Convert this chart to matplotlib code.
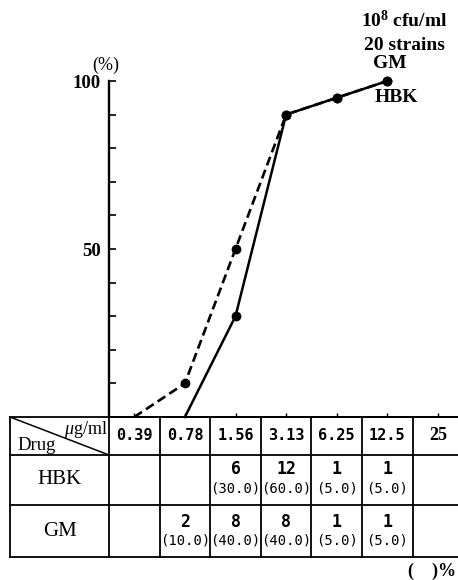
import numpy as np
import matplotlib
matplotlib.use("Agg")
import matplotlib.pyplot as plt

# ---- data ----
concentrations = ["0.39", "0.78", "1.56", "3.13", "6.25", "12.5", "25"]
drugs = ["HBK", "GM"]
hbk_counts = [0, 0, 6, 12, 1, 1, 0]
gm_counts = [0, 2, 8, 8, 1, 1, 0]
hbk_pct = [0, 0, 30.0, 60.0, 5.0, 5.0, 0]
gm_pct = [0, 10.0, 40.0, 40.0, 5.0, 5.0, 0]
y_ticks = [0, 10, 20, 30, 40, 50, 60, 70, 80, 90, 100]
y_ticklabels = ["", "", "", "", "", "50", "", "", "", "", "100"]

SERIF = ["Liberation Serif", "DejaVu Serif"]
MONO = ["DejaVu Sans Mono"]
plt.rcParams["mathtext.fontset"] = "custom"
plt.rcParams["mathtext.rm"] = "Liberation Serif:bold"
plt.rcParams["mathtext.it"] = "Liberation Serif:italic"
plt.rcParams["mathtext.bf"] = "Liberation Serif:bold"

W, H = 458, 580
fig = plt.figure(figsize=(W / 100, H / 100), dpi=100)
fig.patch.set_facecolor("white")

def fx(px):
    return px / W

def fy(py):
    return 1 - py / H

# layout (pixels)
col_w = 50.6
axis_px = 109
zero_py, top_py = 417, 81
x_left = -0.5
x_right = (W - axis_px) / col_w - 0.5

ax = fig.add_axes([fx(axis_px), fy(zero_py), (W - axis_px) / W, (zero_py - top_py) / H])
ax.set_xlim(x_left, x_right)
ax.set_ylim(0, 100)
for s in ["top", "right"]:
    ax.spines[s].set_visible(False)
ax.spines["left"].set_linewidth(1.7)
ax.spines["bottom"].set_linewidth(1.4)
ax.set_yticks(y_ticks)
ax.set_yticklabels(y_ticklabels, fontfamily=SERIF, fontweight="bold", fontsize=13.5)
ax.tick_params(axis="y", direction="in", length=5, width=1.2, pad=6)
ax.set_xticks(range(len(concentrations)))
ax.set_xticklabels([])
ax.tick_params(axis="x", direction="in", length=3, width=1)

x = np.arange(len(concentrations))

def series(pct):
    cum = np.cumsum(pct)
    first = int(np.argmax(cum > 0))
    last = int(np.argmax(cum >= 100))
    xs = x[first - 1:last + 1]
    ys = cum[first - 1:last + 1]
    return xs, ys

gx, gy = series(gm_pct)
hx, hy = series(hbk_pct)
ax.plot(gx, gy, color="black", lw=1.9, linestyle=(0, (3.5, 1.8)), clip_on=False)
ax.plot(gx[1:], gy[1:], "o", color="black", ms=6, clip_on=False)
ax.plot(hx, hy, color="black", lw=1.8, clip_on=False)
ax.plot(hx[1:], hy[1:], "o", color="black", ms=6, clip_on=False)

# ---- table ----
tbl_left_px, tbl_bottom_py = 10, 557
tax = fig.add_axes([fx(tbl_left_px), fy(tbl_bottom_py), (W - tbl_left_px) / W,
                    (tbl_bottom_py - zero_py) / H])
tx_left = x_left - (axis_px - tbl_left_px) / col_w
tax.set_xlim(tx_left, x_right)
tax.set_ylim(tbl_bottom_py - zero_py, 0)
tax.axis("off")
row_edges = [0, 38, 88, 140]
lw = 1.3
for ry in row_edges:
    tax.plot([tx_left, x_right], [ry, ry], color="black", lw=lw, clip_on=False)
for cx in [tx_left, x_left] + [i + 0.5 for i in range(len(concentrations) - 1)]:
    tax.plot([cx, cx], [0, 140], color="black", lw=lw, clip_on=False)
tax.plot([tx_left, x_left], [0, 38], color="black", lw=1.1)

mid_label = (tx_left + x_left) / 2
tax.text(tx_left + 0.14, 29, "Drug", fontfamily=SERIF, fontsize=13.5, ha="left", va="center")
tax.text(x_left - 0.03, 12, "$\\mathit{\\mu}$g/ml", fontfamily=SERIF, fontsize=13, ha="right", va="center")

for i, c in enumerate(concentrations):
    if c == "25":
        tax.text(i, 19, c, fontfamily=SERIF, fontweight="bold", fontsize=13, ha="center", va="center")
    else:
        tax.text(i, 19, c, fontfamily=MONO, fontweight="bold", fontsize=11, ha="center", va="center")

row_label_y = [63, 114]
count_y = [52, 105]
pct_y = [71, 124]
for r, (name, counts, pcts) in enumerate(zip(drugs, [hbk_counts, gm_counts], [hbk_pct, gm_pct])):
    tax.text(mid_label, row_label_y[r], name, fontfamily=SERIF, fontsize=15, ha="center", va="center")
    for i, (n, p) in enumerate(zip(counts, pcts)):
        if n:
            tax.text(i, count_y[r], str(n), fontfamily=MONO, fontweight="bold", fontsize=12,
                     ha="center", va="center")
            tax.text(i, pct_y[r], f"({p:.1f})", fontfamily=MONO, fontsize=10,
                     ha="center", va="center")

# ---- annotations ----
fig.text(fx(106), fy(65), "(%)", fontfamily=SERIF, fontsize=13, ha="center", va="center")
fig.text(fx(404), fy(20), "10$^{8}$ cfu/ml", fontfamily=SERIF, fontweight="bold", fontsize=14,
         ha="center", va="center")
fig.text(fx(404), fy(45), "20 strains", fontfamily=SERIF, fontweight="bold", fontsize=14,
         ha="center", va="center")
fig.text(fx(390), fy(63), "GM", fontfamily=SERIF, fontweight="bold", fontsize=14,
         ha="center", va="center")
fig.text(fx(396), fy(97), "HBK", fontfamily=SERIF, fontweight="bold", fontsize=14,
         ha="center", va="center")
fig.text(fx(456), fy(571), "(    )%", fontfamily=SERIF, fontweight="bold", fontsize=13,
         ha="right", va="center")

fig.savefig("out.png", dpi=100, facecolor="white")
